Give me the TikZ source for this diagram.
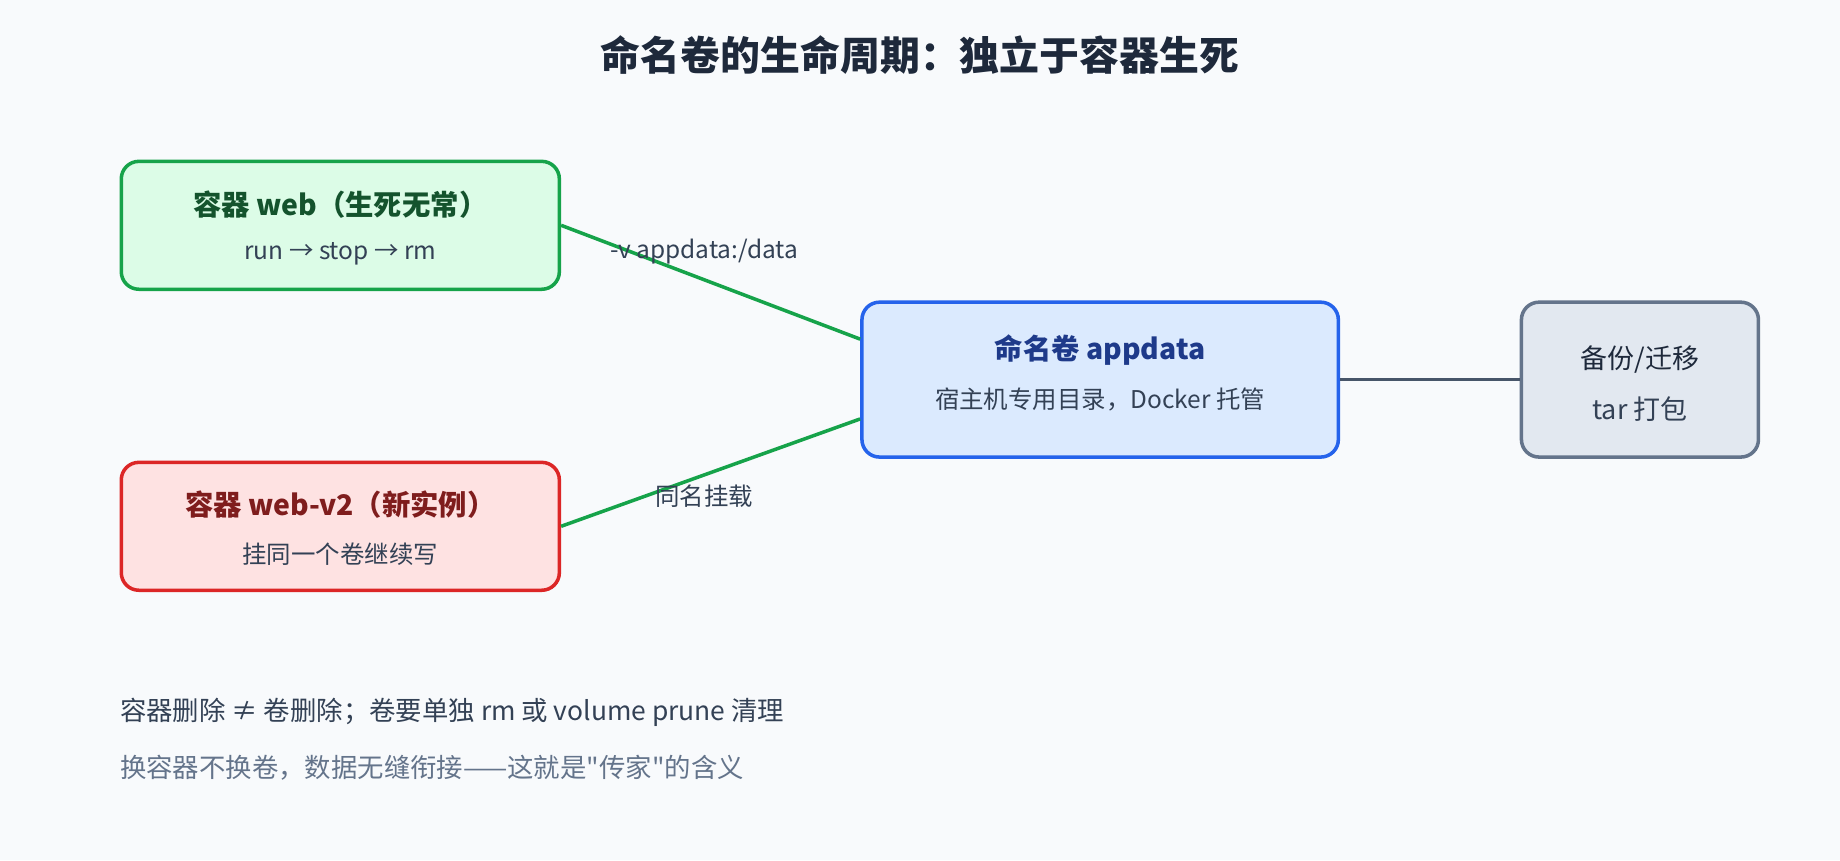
\documentclass[tikz,border=0pt]{standalone}
\usepackage{fontspec}
\setmainfont{Noto Sans CJK SC}[Ligatures=TeXOff]
\usetikzlibrary{positioning}
\definecolor{bgc}{HTML}{F8FAFC}
\definecolor{ink}{HTML}{1E293B}
\definecolor{subink}{HTML}{334155}
\definecolor{mutedink}{HTML}{64748B}
\definecolor{webfill}{HTML}{DCFCE7}
\definecolor{webline}{HTML}{16A34A}
\definecolor{webtxt}{HTML}{14532D}
\definecolor{newfill}{HTML}{FEE2E2}
\definecolor{newline}{HTML}{DC2626}
\definecolor{newtxt}{HTML}{7F1D1D}
\definecolor{volfill}{HTML}{DBEAFE}
\definecolor{volline}{HTML}{2563EB}
\definecolor{voltxt}{HTML}{1E3A8A}
\definecolor{bakfill}{HTML}{E2E8F0}
\definecolor{bakline}{HTML}{64748B}
\definecolor{linkc}{HTML}{475569}

\begin{document}
\begin{tikzpicture}[x=0.6pt,y=-0.6pt,font=\fontsize{12.5}{15}\selectfont]

	\tikzstyle{box}=[draw,line width=1.8pt,rounded corners=9pt,inner sep=0pt]
	\tikzstyle{ttl}=[font=\fontsize{14.5}{17}\selectfont\bfseries,inner sep=0pt]
	\tikzstyle{sub}=[text=subink,inner sep=0pt]
	\tikzstyle{conn}=[draw=webline,line width=1.8pt]
	\tikzstyle{lbl}=[text=subink,inner sep=0pt]
	\tikzstyle{note}=[anchor=west,font=\fontsize{13.5}{16}\selectfont,inner sep=0pt]

	\fill[bgc] (0,0) rectangle (1568,733);
	\useasboundingbox (0,0) rectangle (1568,733);

	\node[font=\fontsize{20.4}{24}\selectfont\bfseries,text=ink] (title) at (784,47) {命名卷的生命周期：独立于容器生死};

	\node[box,fill=webfill,draw=webline,minimum width=224pt,minimum height=65.4pt] (web) at (290,192) {};
	\node[ttl,text=webtxt] (webT) at ([yshift=10.8pt]web.center) {容器 web（生死无常）};
	\node[sub] (webS) at ([yshift=-14.4pt]web.center) {run → stop → rm};

	\node[box,fill=newfill,draw=newline,minimum width=224pt,minimum height=65.4pt] (webv) at (290,448.5) {};
	\node[ttl,text=newtxt] (webvT) at ([yshift=11.1pt]webv.center) {容器 web-v2（新实例）};
	\node[sub] (webvS) at ([yshift=-14.1pt]webv.center) {挂同一个卷继续写};

	\node[box,fill=volfill,draw=volline,minimum width=243.6pt,minimum height=79.2pt] (vol) at (937.5,323.5) {};
	\node[ttl,text=voltxt] (volT) at ([yshift=15.3pt]vol.center) {命名卷 appdata};
	\node[sub] (volS) at ([yshift=-9.9pt]vol.center) {宿主机专用目录，Docker 托管};

	\node[box,fill=bakfill,draw=bakline,minimum width=121.2pt,minimum height=79.2pt] (bak) at (1397.5,323.5) {};
	\node[sub,text=ink,font=\fontsize{13.8}{16}\selectfont] (bakT) at ([yshift=10.5pt]bak.center) {备份/迁移};
	\node[sub,font=\fontsize{13.8}{16}\selectfont] (bakS) at ([yshift=-15.3pt]bak.center) {tar 打包};

	\draw[conn] (web.east) -- ([yshift=20.7pt]vol.west);
	\draw[conn] (webv.east) -- ([yshift=-20.1pt]vol.west);
	\draw[draw=linkc,line width=1.8pt] (vol.east) -- (bak.west);

	\node[lbl] (mnt) at (600,214) {-v appdata:/data};
	\node[lbl] (same) at (600,423) {同名挂载};

	\node[note,text=subink] (note1) at (102,607) {容器删除 ≠ 卷删除；卷要单独 rm 或 volume prune 清理};
	\node[note,text=mutedink] (note2) at (102,654) {换容器不换卷，数据无缝衔接——这就是"传家"的含义};
\end{tikzpicture}
\end{document}
